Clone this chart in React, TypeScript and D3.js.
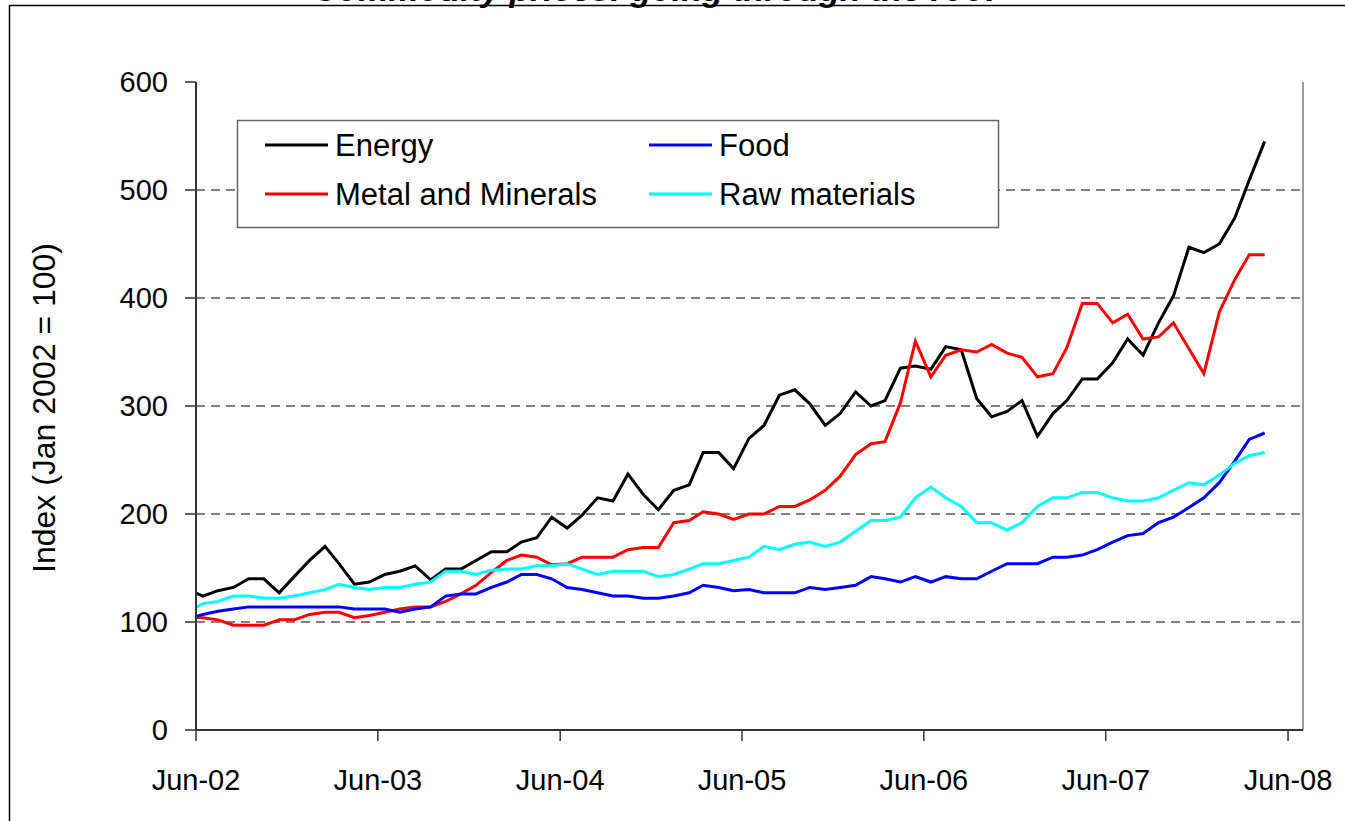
import React from "react";
import * as d3 from "d3";

// monthly readings, mid-month, May-02 .. Apr-08 (first point is clipped by the axis)
const firstMonth = new Date(2002, 4, 15);

const energy = [
  130, 124, 129, 132, 140, 140, 127, 142, 157, 170, 154, 135,
  137, 144, 147, 152, 139, 149, 149, 157, 165, 165, 174, 178,
  197, 187, 199, 215, 212, 237, 218, 204, 222, 227, 257, 257,
  242, 270, 282, 310, 315, 302, 282, 293, 313, 300, 305, 335,
  337, 334, 355, 352, 307, 290, 295, 305, 272, 293, 305, 325,
  325, 340, 362, 347, 377, 402, 447, 442, 450, 474, 509, 545,
];
const metals = [
  105, 104, 102, 97, 97, 97, 102, 102, 107, 109, 109, 104,
  106, 109, 112, 114, 114, 119, 126, 134, 146, 157, 162, 160,
  153, 154, 160, 160, 160, 167, 169, 169, 192, 194, 202, 200,
  195, 200, 200, 207, 207, 213, 222, 235, 255, 265, 267, 303,
  360, 327, 347, 352, 350, 357, 349, 345, 327, 330, 354, 395,
  395, 377, 385, 362, 364, 377, 353, 330, 387, 417, 440, 440,
];
const food = [
  102.5, 107, 110, 112, 114, 114, 114, 114, 114, 114, 114, 112,
  112, 112, 109, 112, 114, 124, 126, 126, 132, 137, 144, 144,
  140, 132, 130, 127, 124, 124, 122, 122, 124, 127, 134, 132,
  129, 130, 127, 127, 127, 132, 130, 132, 134, 142, 140, 137,
  142, 137, 142, 140, 140, 147, 154, 154, 154, 160, 160, 162,
  167, 174, 180, 182, 192, 197, 206, 215, 229, 249, 269, 275,
];
const rawMaterials = [
  110, 117, 119, 124, 124, 122, 122, 124, 127, 130, 135, 132,
  130, 132, 132, 135, 137, 147, 147, 144, 148, 149, 149, 152,
  152, 154, 149, 144, 147, 147, 147, 142, 144, 149, 154, 154,
  157, 160, 170, 167, 172, 174, 170, 174, 184, 194, 194, 197,
  215, 225, 215, 207, 192, 192, 185, 192, 207, 215, 215, 220,
  220, 215, 212, 212, 215, 222, 229, 227, 236, 247, 254, 257,
];

const seriesNames = ["Energy", "Food", "Metal and Minerals", "Raw materials"];
const seriesColors = ["#000000", "#0000ff", "#ff0000", "#00ffff"];
const seriesValues = [energy, food, metals, rawMaterials];

const xTickLabels = ["Jun-02", "Jun-03", "Jun-04", "Jun-05", "Jun-06", "Jun-07", "Jun-08"];
const yTicks = [0, 100, 200, 300, 400, 500, 600];

const font = "'Liberation Sans', Arial, sans-serif";

const App = () => {
  const left = 196;
  const right = 1303;
  const top = 82;
  const bottom = 730;

  const x = d3
    .scaleTime()
    .domain([new Date(2002, 5, 1), new Date(2008, 6, 1)])
    .range([left, right]);
  const y = d3.scaleLinear().domain([0, 600]).range([bottom, top]);

  const dates = energy.map((_, i) => d3.timeMonth.offset(firstMonth, i));
  const tickDates = xTickLabels.map((_, i) => new Date(2002 + i, 5, 1));

  const line = d3
    .line<number>()
    .x((_, i) => x(dates[i]))
    .y((d) => y(d));

  // draw order: energy first, then the others on top like the original
  const drawOrder = [0, 2, 1, 3];

  return (
    <svg
      width={1345}
      height={821}
      style={{ position: "absolute", left: 0, top: 0, background: "#fff" }}
    >
      <defs>
        <clipPath id="plot-clip">
          <rect x={left} y={0} width={right - left} height={bottom} />
        </clipPath>
      </defs>

      {/* outer chart frame */}
      <rect x={9.5} y={5.5} width={1400} height={900} fill="none" stroke="#000" strokeWidth={1.5} />

      {/* title, mostly cut off above the frame as in the original */}
      <text
        x={655}
        y={0.5}
        textAnchor="middle"
        fontFamily={font}
        fontSize={34}
        fontWeight="bold"
        fontStyle="italic"
        fill="#000"
      >
        Commodity prices: going through the roof
      </text>

      {/* gridlines */}
      {yTicks
        .filter((t) => t > 0 && t < 600)
        .map((t) => (
          <line
            key={t}
            x1={left}
            x2={right - 3}
            y1={y(t)}
            y2={y(t)}
            stroke="#555"
            strokeWidth={1.5}
            strokeDasharray="9,6"
          />
        ))}

      {/* right plot border */}
      <line x1={right} x2={right} y1={top} y2={bottom} stroke="#999" strokeWidth={2} />

      {/* series */}
      <g clipPath="url(#plot-clip)">
        {drawOrder.map((s) => (
          <path
            key={seriesNames[s]}
            d={line(seriesValues[s]) || ""}
            fill="none"
            stroke={seriesColors[s]}
            strokeWidth={3}
            strokeLinejoin="miter"
          />
        ))}
      </g>

      {/* y axis */}
      <line x1={left} x2={left} y1={top} y2={bottom} stroke="#333" strokeWidth={2} />
      {yTicks.map((t) => (
        <g key={t}>
          <line x1={left - 11} x2={left} y1={y(t)} y2={y(t)} stroke="#333" strokeWidth={1.5} />
          <text
            x={168}
            y={y(t)}
            dy="0.36em"
            textAnchor="end"
            fontFamily={font}
            fontSize={29}
            fill="#000"
          >
            {t}
          </text>
        </g>
      ))}
      <text
        transform={`translate(55,${(top + bottom) / 2 + 2}) rotate(-90)`}
        textAnchor="middle"
        fontFamily={font}
        fontSize={32}
        fill="#000"
      >
        Index (Jan 2002 = 100)
      </text>

      {/* x axis */}
      <line x1={left} x2={right} y1={bottom} y2={bottom} stroke="#333" strokeWidth={2} />
      {tickDates.map((d, i) => (
        <g key={xTickLabels[i]}>
          <line x1={x(d)} x2={x(d)} y1={bottom} y2={bottom + 11} stroke="#333" strokeWidth={1.5} />
          <text
            x={x(d)}
            y={790}
            textAnchor="middle"
            fontFamily={font}
            fontSize={29}
            fill="#000"
          >
            {xTickLabels[i]}
          </text>
        </g>
      ))}

      {/* legend */}
      <rect x={237.5} y={120.5} width={761} height={107} fill="#fff" stroke="#666" strokeWidth={1.5} />
      {seriesNames.map((name, i) => {
        const col = i % 2;
        const row = Math.floor(i / 2);
        const lx = 265 + col * 384;
        const ly = 145 + row * 49;
        return (
          <g key={name}>
            <line x1={lx} x2={lx + 63} y1={ly} y2={ly} stroke={seriesColors[i]} strokeWidth={3} />
            <text
              x={lx + 70}
              y={ly}
              dy="0.36em"
              fontFamily={font}
              fontSize={31}
              fill="#000"
            >
              {name}
            </text>
          </g>
        );
      })}
    </svg>
  );
};

export default App;
